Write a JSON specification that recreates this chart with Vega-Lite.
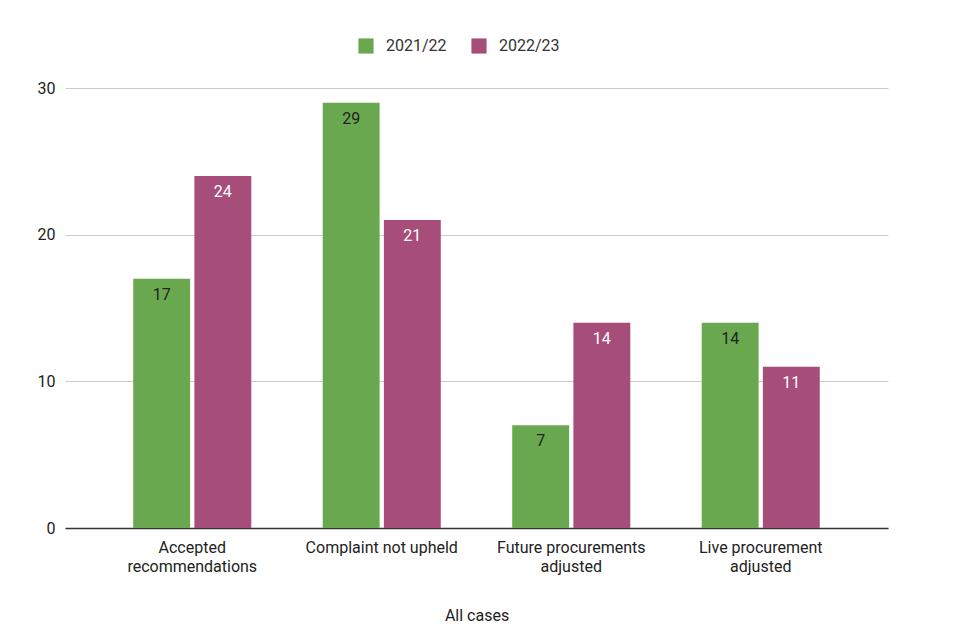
{
  "$schema": "https://vega.github.io/schema/vega-lite/v6.json",
  "autosize": "none",
  "width": 823,
  "height": 440,
  "padding": {"left": 65, "top": 88, "right": 72, "bottom": 112},
  "background": "white",
  "config": {
    "font": "Roboto",
    "view": {"stroke": null}
  },
  "data": {
    "values": [
      {"category": "Accepted recommendations", "year": "2021/22", "value": 17},
      {"category": "Accepted recommendations", "year": "2022/23", "value": 24},
      {"category": "Complaint not upheld", "year": "2021/22", "value": 29},
      {"category": "Complaint not upheld", "year": "2022/23", "value": 21},
      {"category": "Future procurements adjusted", "year": "2021/22", "value": 7},
      {"category": "Future procurements adjusted", "year": "2022/23", "value": 14},
      {"category": "Live procurement adjusted", "year": "2021/22", "value": 14},
      {"category": "Live procurement adjusted", "year": "2022/23", "value": 11}
    ]
  },
  "encoding": {
    "x": {
      "field": "category",
      "type": "nominal",
      "sort": null,
      "scale": {"paddingInner": 0.377, "paddingOuter": 0.36},
      "axis": {
        "title": "All cases",
        "titleFont": "Roboto",
        "titleFontSize": 16,
        "titleFontWeight": "normal",
        "titleColor": "#222222",
        "titlePadding": 33,
        "labelAngle": 0,
        "labelFontSize": 16,
        "labelColor": "#222222",
        "labelPadding": 11,
        "labelLineHeight": 19,
        "labelExpr": "datum.label == 'Accepted recommendations' ? ['Accepted', 'recommendations'] : datum.label == 'Future procurements adjusted' ? ['Future procurements', 'adjusted'] : datum.label == 'Live procurement adjusted' ? ['Live procurement', 'adjusted'] : datum.label",
        "ticks": false,
        "domainColor": "#333333",
        "domainWidth": 1.5,
        "grid": false
      }
    },
    "xOffset": {"field": "year", "type": "nominal", "scale": {"paddingInner": 0.07}},
    "y": {
      "field": "value",
      "type": "quantitative",
      "scale": {"domain": [0, 30]},
      "axis": {
        "title": null,
        "values": [0, 10, 20, 30],
        "labelFontSize": 16,
        "labelColor": "#222222",
        "labelPadding": 10,
        "ticks": false,
        "domain": false,
        "gridColor": "#cccccc"
      }
    }
  },
  "layer": [
    {
      "mark": {"type": "bar"},
      "encoding": {
        "color": {
          "field": "year",
          "type": "nominal",
          "scale": {"domain": ["2021/22", "2022/23"], "range": ["#6aa84f", "#a64d79"]},
          "legend": {
            "title": null,
            "orient": "none",
            "direction": "horizontal",
            "legendX": 293,
            "legendY": -50,
            "symbolType": "square",
            "symbolSize": 230,
            "symbolStrokeWidth": 0,
            "labelFontSize": 16,
            "labelColor": "#333333",
            "columnPadding": 24,
            "labelOffset": 12
          }
        }
      }
    },
    {
      "mark": {"type": "text", "baseline": "middle", "dy": 16, "fontSize": 16},
      "encoding": {
        "text": {"field": "value", "type": "quantitative"},
        "color": {
          "condition": {"test": "datum.year == '2022/23'", "value": "#ffffff"},
          "value": "#222222"
        }
      }
    }
  ]
}
